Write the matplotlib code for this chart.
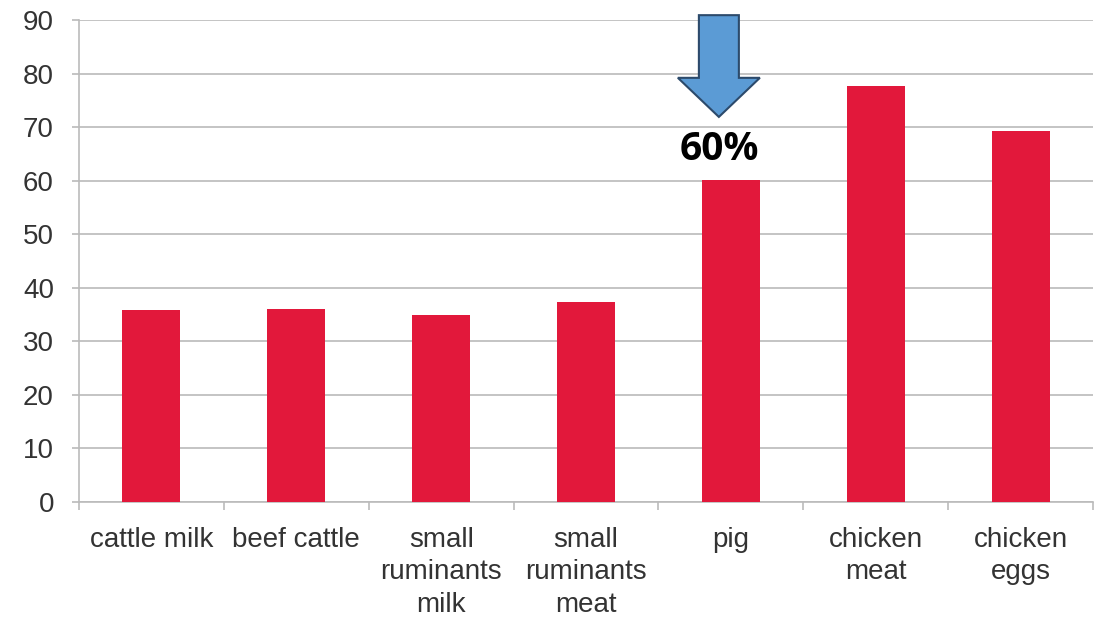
import matplotlib.pyplot as plt
from matplotlib.patches import Polygon

# Data
categories = ['cattle milk', 'beef cattle', 'small\nruminants\nmilk', 'small\nruminants\nmeat',
              'pig', 'chicken\nmeat', 'chicken\neggs']
values = [35.8, 36.1, 35.0, 37.4, 60.2, 77.6, 69.3]
highlight = 4  # pig
highlight_label = '60%'

plt.rcParams['font.family'] = ['Liberation Sans', 'DejaVu Sans']

fig = plt.figure(figsize=(11.12, 6.17), dpi=100)
ax = fig.add_axes([0.071, 0.1864, 0.912, 0.7812])

x = range(len(categories))
ax.bar(x, values, width=0.4, color='#E2183B', zorder=3)

ax.set_ylim(0, 90)
ax.set_xlim(-0.5, len(categories) - 0.5)
ax.set_yticks(range(0, 91, 10))
ax.yaxis.grid(True, color='#C4C4C4', linewidth=1.4, zorder=0)
ax.set_axisbelow(True)

ax.set_xticks(list(x))
ax.set_xticklabels(categories, fontsize=20, color='#333333', linespacing=1.32, va='top')
ax.set_xticks([i - 0.5 for i in range(len(categories) + 1)], minor=True)
ax.tick_params(axis='x', which='major', length=0, pad=18)
ax.tick_params(axis='x', which='minor', length=6, width=1.2, color='#BBBBBB')
ax.tick_params(axis='y', length=5, width=1.4, color='#C4C4C4', labelsize=20,
               labelcolor='#333333', pad=13)

for side in ['top', 'right']:
    ax.spines[side].set_visible(False)
for side in ['left', 'bottom']:
    ax.spines[side].set_color('#BBBBBB')
    ax.spines[side].set_linewidth(1.2)

# Arrow pointing at the pig bar (sits a little left of the bar centre)
cx = highlight - 0.083
v = values[highlight]
tip = v + 11.7
head = v + 19.0
top = v + 30.7
sw, hw = 0.138, 0.283
arrow = Polygon([(cx - sw, top), (cx + sw, top), (cx + sw, head), (cx + hw, head),
                 (cx, tip), (cx - hw, head), (cx - sw, head)],
                closed=True, facecolor='#5B9BD5', edgecolor='#2C4A6B', linewidth=1.5,
                clip_on=False, zorder=5)
ax.add_patch(arrow)
ax.text(cx, v + 5.6, highlight_label, ha='center', va='center', fontsize=28,
        fontweight='bold', family=['Open Sans', 'DejaVu Sans'], color='black', zorder=5)

fig.savefig('out.png', dpi=100)
